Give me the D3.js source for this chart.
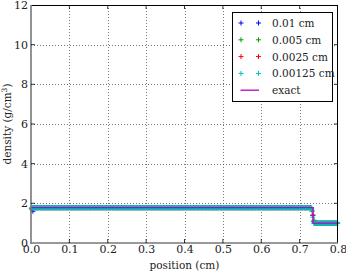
<!DOCTYPE html>
<html>
<head>
<meta charset="utf-8">
<script src="https://cdn.jsdelivr.net/npm/d3@7"></script>
<style>
  body { margin: 0; background: #fff; }
  svg text { font-family: "DejaVu Serif", serif; fill: #222; }
</style>
</head>
<body>
<svg id="chart" width="346" height="274"></svg>
<script>
// legend labels / cell sizes of the four runs
var labels = ['0.01 cm', '0.005 cm', '0.0025 cm', '0.00125 cm'];
var cellSizes = [0.01, 0.005, 0.0025, 0.00125];
var colors = ['#0000ff', '#00a000', '#ff0000', '#00bfbf'];

// densities per cell, as [value, number of cells] runs
var run001 = [[1.6, 1], [1.78, 72], [1.4, 1], [1.0, 6]];
var run0005 = [[1.7, 1], [1.78, 145], [1.6, 1], [1.15, 1], [1.0, 12]];
var run00025 = [[1.72, 1], [1.78, 291], [1.7, 1], [1.4, 1], [1.1, 1], [1.0, 25]];
var run000125 = [[1.75, 1], [1.78, 584], [1.76, 1], [1.6, 1], [1.3, 1], [1.08, 1], [1.0, 51]];
var runs = [run001, run0005, run00025, run000125];

// exact solution
var exactX = [0, 0.735, 0.735, 0.8];
var exactY = [1.78, 1.78, 1.0, 1.0];

var xTicks = [0, 0.1, 0.2, 0.3, 0.4, 0.5, 0.6, 0.7, 0.8];
var yTicks = [0, 2, 4, 6, 8, 10, 12];

var FONT = '"DejaVu Serif", serif';
var svg = d3.select('#chart');
var m = {left: 31, right: 338, top: 5, bottom: 243};

var x = d3.scaleLinear().domain([0, 0.8]).range([m.left, m.right]);
var y = d3.scaleLinear().domain([0, 12]).range([m.bottom, m.top]);

// grid
var grid = svg.append('g').attr('stroke', '#555').attr('stroke-width', 0.8).attr('stroke-dasharray', '1,2');
grid.selectAll('.gx').data(xTicks.slice(1, -1)).enter().append('line')
	.attr('x1', function (d) { return Math.round(x(d)) + 0.5; })
	.attr('x2', function (d) { return Math.round(x(d)) + 0.5; })
	.attr('y1', m.top).attr('y2', m.bottom);
grid.selectAll('.gy').data(yTicks.slice(1, -1)).enter().append('line')
	.attr('y1', function (d) { return Math.round(y(d)) + 0.5; })
	.attr('y2', function (d) { return Math.round(y(d)) + 0.5; })
	.attr('x1', m.left).attr('x2', m.right);

// expand runs into points at cell centres
function points(r, dx) {
	var out = [], i = 0;
	r.forEach(function (seg) {
		for (var k = 0; k < seg[1]; k++) {
			out.push({x: (i + 0.5) * dx, y: seg[0]});
			i++;
		}
	});
	return out;
}

function plus(g, px, py, col) {
	g.append('path')
		.attr('d', 'M' + (px - 2.5) + ',' + py + 'h5M' + px + ',' + (py - 2.5) + 'v5')
		.attr('stroke', col).attr('stroke-width', 1).attr('fill', 'none');
}

var marks = svg.append('g');
runs.forEach(function (r, s) {
	var g = marks.append('g');
	points(r, cellSizes[s]).forEach(function (p) {
		plus(g, x(p.x), y(p.y), colors[s]);
	});
});

var line = d3.line().x(function (d) { return x(d[0]); }).y(function (d) { return y(d[1]); });
svg.append('path')
	.datum(d3.zip(exactX, exactY))
	.attr('d', line)
	.attr('fill', 'none').attr('stroke', '#bf00bf').attr('stroke-width', 1.3);

// frame
svg.append('line').attr('x1', m.left).attr('x2', m.right).attr('y1', m.top + 0.5).attr('y2', m.top + 0.5).attr('stroke', '#000');
svg.append('line').attr('x1', m.right - 0.5).attr('x2', m.right - 0.5).attr('y1', m.top).attr('y2', m.bottom).attr('stroke', '#000');
svg.append('line').attr('x1', m.left).attr('x2', m.left).attr('y1', m.top).attr('y2', m.bottom + 1).attr('stroke', '#777').attr('stroke-width', 1.6);
svg.append('line').attr('x1', m.left).attr('x2', m.right).attr('y1', m.bottom).attr('y2', m.bottom).attr('stroke', '#777').attr('stroke-width', 1.6);

// axes (labels only, ticks drawn inward below)
var xAxis = d3.axisBottom(x).tickValues(xTicks).tickFormat(d3.format('.1f')).tickSize(0).tickPadding(2);
var gx = svg.append('g').attr('transform', 'translate(0,' + m.bottom + ')').call(xAxis);
gx.attr('font-family', FONT).attr('font-size', 11);
gx.select('.domain').remove();
gx.selectAll('text').attr('fill', '#222');

var yAxis = d3.axisLeft(y).tickValues(yTicks).tickFormat(d3.format('d')).tickSize(0).tickPadding(3);
var gy = svg.append('g').attr('transform', 'translate(' + m.left + ',0)').call(yAxis);
gy.attr('font-family', FONT).attr('font-size', 11);
gy.select('.domain').remove();
gy.selectAll('text').attr('fill', '#222');

// small inward ticks on all sides
var tk = svg.append('g').attr('stroke', '#000').attr('stroke-width', 0.8);
xTicks.slice(1, -1).forEach(function (t) {
	tk.append('line').attr('x1', x(t)).attr('x2', x(t)).attr('y1', m.bottom).attr('y2', m.bottom - 4);
	tk.append('line').attr('x1', x(t)).attr('x2', x(t)).attr('y1', m.top).attr('y2', m.top + 4);
});
yTicks.slice(1, -1).forEach(function (t) {
	tk.append('line').attr('y1', y(t)).attr('y2', y(t)).attr('x1', m.left).attr('x2', m.left + 4);
	tk.append('line').attr('y1', y(t)).attr('y2', y(t)).attr('x1', m.right).attr('x2', m.right - 4);
});

// axis titles
svg.append('text').attr('x', (m.left + m.right) / 2).attr('y', 269)
	.attr('text-anchor', 'middle').attr('font-size', 10.5).text('position (cm)');
var yl = svg.append('text').attr('transform', 'translate(11,' + ((m.top + m.bottom) / 2) + ') rotate(-90)')
	.attr('text-anchor', 'middle').attr('font-size', 10.5);
yl.append('tspan').text('density (g/cm');
yl.append('tspan').attr('dy', -4).attr('font-size', 7.5).text('3');
yl.append('tspan').attr('dy', 4).text(')');

// legend
var lg = svg.append('g');
lg.append('rect').attr('x', 232.5).attr('y', 12.5).attr('width', 100).attr('height', 89)
	.attr('fill', '#fff').attr('stroke', '#000').attr('stroke-width', 1);
labels.forEach(function (l, i) {
	var ry = 23 + i * 16.8;
	plus(lg, 241, ry, colors[i]);
	plus(lg, 258.5, ry, colors[i]);
	lg.append('text').attr('x', 272).attr('y', ry + 4).attr('font-size', 10.5).text(l);
});
var ey = 23 + 4 * 16.8;
lg.append('line').attr('x1', 240.5).attr('x2', 259).attr('y1', ey).attr('y2', ey)
	.attr('stroke', '#bf00bf').attr('stroke-width', 1.3);
lg.append('text').attr('x', 272).attr('y', ey + 4).attr('font-size', 10.5).text('exact');
</script>
</body>
</html>
